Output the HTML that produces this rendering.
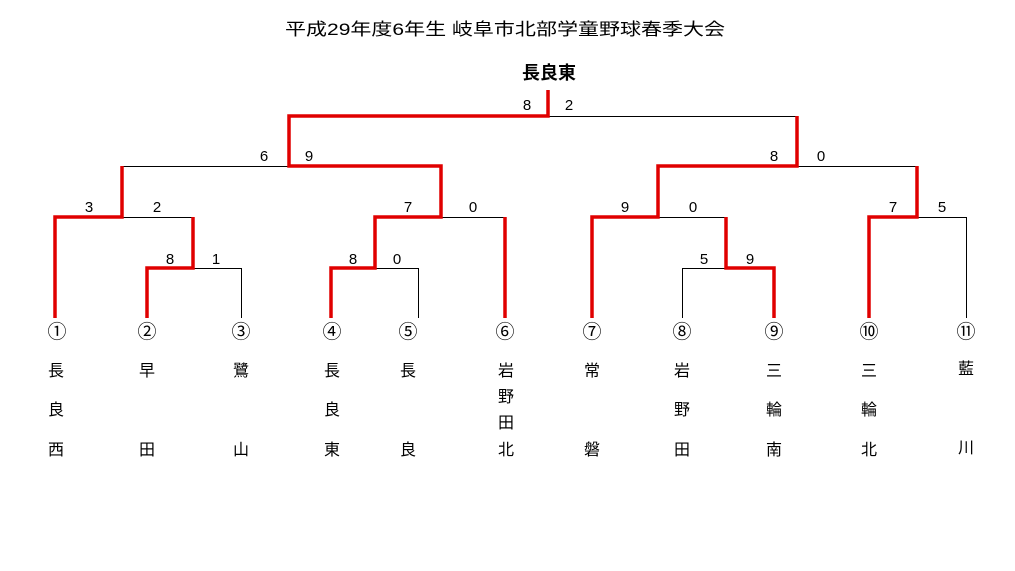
<!DOCTYPE html>
<html><head><meta charset="utf-8"><style>
html,body{margin:0;padding:0;background:#fff;}
svg{display:block;}
text{font-family:"Liberation Sans","Noto Sans CJK JP",sans-serif;fill:#000;}
</style></head><body>
<svg width="1015" height="571" viewBox="0 0 1015 571" xmlns="http://www.w3.org/2000/svg">
<rect width="1015" height="571" fill="#fff"/>
<text x="285" y="35" font-size="17" textLength="440" lengthAdjust="spacingAndGlyphs">平成29年度6年生 岐阜市北部学童野球春季大会</text>
<text x="549" y="79" font-size="18" font-weight="bold" text-anchor="middle">長良東</text>
<g stroke="#000" stroke-width="1" fill="none" shape-rendering="crispEdges">
<path d="M548 116.5H797"/>
<path d="M123 166.5H289"/>
<path d="M797 166.5H917"/>
<path d="M122 217.5H193"/>
<path d="M441 217.5H505"/>
<path d="M658 217.5H726"/>
<path d="M917 217.5H966.5V318"/>
<path d="M193 268.5H241.5V318"/>
<path d="M375 268.5H418.5V318"/>
<path d="M682.5 318V268.5H726"/>
</g>
<g stroke="#e00000" stroke-width="3.5" fill="none" stroke-linejoin="miter">
<path d="M548 90V116H289V166H441V217H375V268H331V318"/>
<path d="M122 166V217H55V318"/>
<path d="M193 217V268H147V318"/>
<path d="M505 217V318"/>
<path d="M797 116V166H658V217H592V318"/>
<path d="M726 217V268H774V318"/>
<path d="M917 166V217H869V318"/>
</g>
<g font-size="15" text-anchor="middle">
<text x="527" y="110">8</text><text x="569" y="110">2</text>
<text x="264" y="161">6</text><text x="309" y="161">9</text>
<text x="774" y="161">8</text><text x="821" y="161">0</text>
<text x="89" y="212">3</text><text x="157" y="212">2</text>
<text x="408" y="212">7</text><text x="473" y="212">0</text>
<text x="625" y="212">9</text><text x="693" y="212">0</text>
<text x="893" y="212">7</text><text x="942" y="212">5</text>
<text x="170" y="264">8</text><text x="216" y="264">1</text>
<text x="353" y="264">8</text><text x="397" y="264">0</text>
<text x="704" y="264">5</text><text x="750" y="264">9</text>
</g>
<g font-size="19" text-anchor="middle">
<text x="57" y="338">①</text><text x="147" y="338">②</text><text x="241" y="338">③</text>
<text x="332" y="338">④</text><text x="408" y="338">⑤</text><text x="505" y="338">⑥</text>
<text x="592" y="338">⑦</text><text x="682" y="338">⑧</text><text x="774" y="338">⑨</text>
<text x="869" y="338">⑩</text><text x="966" y="338">⑪</text>
</g>
<g font-size="16" text-anchor="middle">
<text x="56" y="376">長</text><text x="56" y="415">良</text><text x="56" y="455">西</text>
<text x="147" y="376">早</text><text x="147" y="455">田</text>
<text x="241" y="376">鷺</text><text x="241" y="455">山</text>
<text x="332" y="376">長</text><text x="332" y="415">良</text><text x="332" y="455">東</text>
<text x="408" y="376">長</text><text x="408" y="455">良</text>
<text x="506" y="376">岩</text><text x="506" y="402">野</text><text x="506" y="428">田</text><text x="506" y="455">北</text>
<text x="592" y="376">常</text><text x="592" y="455">磐</text>
<text x="682" y="376">岩</text><text x="682" y="415">野</text><text x="682" y="455">田</text>
<text x="774" y="376">三</text><text x="774" y="415">輪</text><text x="774" y="455">南</text>
<text x="869" y="376">三</text><text x="869" y="415">輪</text><text x="869" y="455">北</text>
<text x="966" y="374">藍</text><text x="966" y="453">川</text>
</g>
</svg>
</body></html>
